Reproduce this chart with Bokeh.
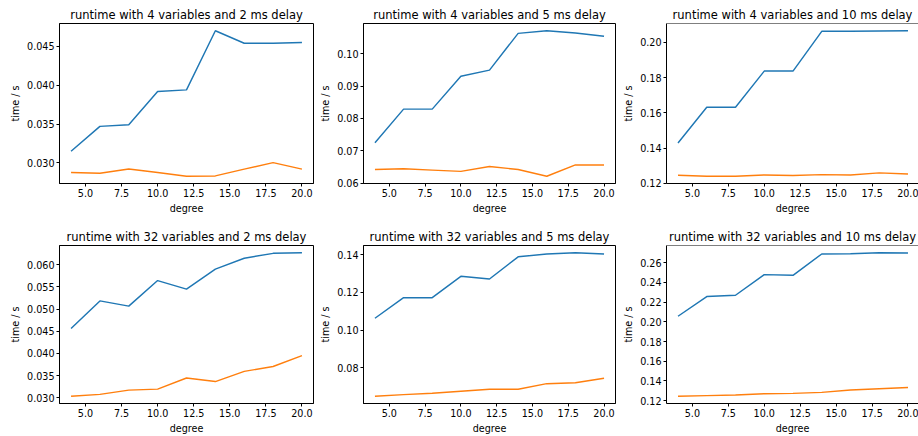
from bokeh.plotting import figure
from bokeh.layouts import column, row
from bokeh.models import Range1d, FixedTicker, NumeralTickFormatter, Span
from bokeh.embed import file_html
from bokeh.resources import INLINE

# ---------------- data ----------------
degrees = [4, 6, 8, 10, 12, 14, 16, 18, 20]

v4_d2_blue = [0.0315, 0.0347, 0.0349, 0.0392, 0.0394, 0.0470, 0.0454, 0.0454, 0.0455]
v4_d2_orange = [0.02876, 0.02868, 0.02923, 0.02876, 0.02829, 0.02833, 0.0292, 0.03004, 0.0292]
v4_d5_blue = [0.0725, 0.0829, 0.0829, 0.0931, 0.0950, 0.1064, 0.1072, 0.1065, 0.1055]
v4_d5_orange = [0.0642, 0.0644, 0.0640, 0.0636, 0.0651, 0.0642, 0.0621, 0.0656, 0.0656]
v4_d10_blue = [0.1429, 0.1632, 0.1632, 0.1837, 0.1837, 0.2063, 0.2063, 0.2065, 0.2066]
v4_d10_orange = [0.1245, 0.1240, 0.1240, 0.1247, 0.1244, 0.1249, 0.1247, 0.1259, 0.1253]
v32_d2_blue = [0.04563, 0.05185, 0.05067, 0.05644, 0.05452, 0.05904, 0.06148, 0.06259, 0.06274]
v32_d2_orange = [0.0303, 0.03074, 0.0317, 0.03193, 0.03444, 0.03363, 0.03593, 0.03704, 0.03948]
v32_d5_blue = [0.1063, 0.1172, 0.1172, 0.1285, 0.1271, 0.1388, 0.1403, 0.1410, 0.1403]
v32_d5_orange = [0.0650, 0.0659, 0.0666, 0.0677, 0.0687, 0.0687, 0.0717, 0.0722, 0.0746]
v32_d10_blue = [0.2057, 0.2257, 0.2270, 0.2480, 0.2473, 0.2690, 0.2693, 0.2703, 0.2700]
v32_d10_orange = [0.1243, 0.1250, 0.1257, 0.1270, 0.1273, 0.1283, 0.1307, 0.1320, 0.1333]

titles = [
    "runtime with 4 variables and 2 ms delay",
    "runtime with 4 variables and 5 ms delay",
    "runtime with 4 variables and 10 ms delay",
    "runtime with 32 variables and 2 ms delay",
    "runtime with 32 variables and 5 ms delay",
    "runtime with 32 variables and 10 ms delay",
]

x_ticks = [5.0, 7.5, 10.0, 12.5, 15.0, 17.5, 20.0]
y_ticks_v4_d2 = [0.030, 0.035, 0.040, 0.045]
y_ticks_v4_d5 = [0.06, 0.07, 0.08, 0.09, 0.10]
y_ticks_v4_d10 = [0.12, 0.14, 0.16, 0.18, 0.20]
y_ticks_v32_d2 = [0.030, 0.035, 0.040, 0.045, 0.050, 0.055, 0.060]
y_ticks_v32_d5 = [0.08, 0.10, 0.12, 0.14]
y_ticks_v32_d10 = [0.12, 0.14, 0.16, 0.18, 0.20, 0.22, 0.24, 0.26]

BLUE = "#1f77b4"
ORANGE = "#ff7f0e"
FONT = "DejaVu Sans"
TICK_FS = "9.6px"
TITLE_FS = "11.5px"

FRAME_W = 254
FRAME_W_LAST = 253


def make_panel(title, blue, orange, yticks, yfmt, width, left, right,
               height, top, bottom, frame_w, clipped):
    xmin, xmax = min(degrees), max(degrees)
    xpad = 0.05 * (xmax - xmin)
    x0 = xmin - xpad
    x1_full = xmax + xpad
    x1 = x0 + (x1_full - x0) * frame_w / FRAME_W
    allv = blue + orange
    lo, hi = min(allv), max(allv)
    ypad = 0.05 * (hi - lo)
    y0, y1 = lo - ypad, hi + ypad

    p = figure(width=width, height=height, output_backend="svg",
               toolbar_location=None, x_range=Range1d(x0, x1),
               y_range=Range1d(y0, y1),
               min_border_left=left, min_border_right=right,
               min_border_top=top, min_border_bottom=bottom,
               background_fill_color="white", border_fill_color="white")
    p.title.text = title
    p.title.text_font = FONT
    p.title.text_font_size = TITLE_FS
    p.title.text_font_style = "normal"
    p.title.text_color = "black"
    p.title.align = "center"
    p.title.standoff = 3

    p.line(degrees, blue, line_color=BLUE, line_width=1.45)
    p.line(degrees, orange, line_color=ORANGE, line_width=1.45)

    p.grid.visible = False
    if clipped:
        p.outline_line_color = None
        p.add_layout(Span(location=y1, dimension="width",
                          line_color="black", line_width=1))
    else:
        p.outline_line_color = "black"
        p.outline_line_width = 1
        p.outline_line_alpha = 1.0

    for ax in (p.xaxis[0], p.yaxis[0]):
        ax.axis_line_color = "black"
        ax.axis_line_width = 1
        ax.major_tick_line_color = "black"
        ax.major_tick_out = 3
        ax.major_tick_in = 0
        ax.minor_tick_line_color = None
        ax.major_label_text_font = FONT
        ax.major_label_text_font_size = TICK_FS
        ax.major_label_text_color = "black"
        ax.axis_label_text_font = FONT
        ax.axis_label_text_font_size = TICK_FS
        ax.axis_label_text_font_style = "normal"
        ax.axis_label_text_color = "black"
        ax.major_label_standoff = 2
        ax.axis_label_standoff = 3

    p.xaxis.ticker = FixedTicker(ticks=x_ticks)
    p.xaxis.formatter = NumeralTickFormatter(format="0.0")
    p.xaxis.axis_label = "degree"
    p.yaxis.ticker = FixedTicker(ticks=yticks)
    p.yaxis.formatter = NumeralTickFormatter(format=yfmt)
    p.yaxis.axis_label = "time / s"
    return p


H1, T1, B1 = 223, 23, 40
H2, T2, B2 = 213, 22, 31

p1 = make_panel(titles[0], v4_d2_blue, v4_d2_orange, y_ticks_v4_d2, "0.000",
                317, 59, 4, H1, T1, B1, FRAME_W, False)
p2 = make_panel(titles[1], v4_d5_blue, v4_d5_orange, y_ticks_v4_d5, "0.00",
                303, 44, 5, H1, T1, B1, FRAME_W, False)
p3 = make_panel(titles[2], v4_d10_blue, v4_d10_orange, y_ticks_v4_d10, "0.00",
                298, 45, 0, H1, T1, B1, FRAME_W_LAST, True)
p4 = make_panel(titles[3], v32_d2_blue, v32_d2_orange, y_ticks_v32_d2, "0.000",
                317, 59, 4, H2, T2, B2, FRAME_W, False)
p5 = make_panel(titles[4], v32_d5_blue, v32_d5_orange, y_ticks_v32_d5, "0.00",
                303, 44, 5, H2, T2, B2, FRAME_W, False)
p6 = make_panel(titles[5], v32_d10_blue, v32_d10_orange, y_ticks_v32_d10, "0.00",
                298, 45, 0, H2, T2, B2, FRAME_W_LAST, True)

layout = column(row(p1, p2, p3, spacing=0), row(p4, p5, p6, spacing=0), spacing=0)

open("out.html", "w").write(file_html(layout, INLINE))
